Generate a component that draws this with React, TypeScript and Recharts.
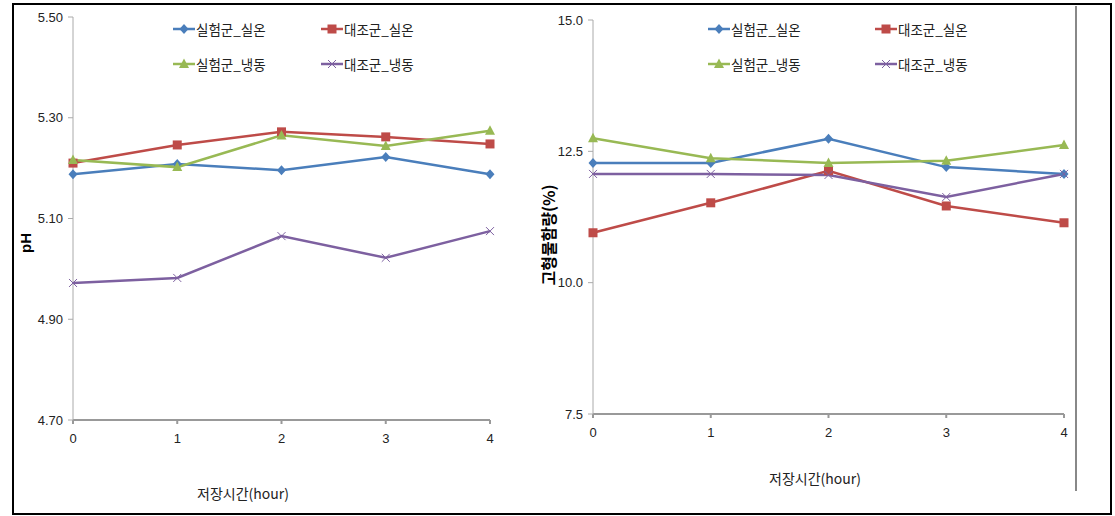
import React from "react";
import { LineChart, Line, XAxis, YAxis } from "recharts";

const hours = [0, 1, 2, 3, 4];
const seriesNames = ["실험군_실온", "대조군_실온", "실험군_냉동", "대조군_냉동"];

// pH
const phExpRoom = [5.188, 5.208, 5.196, 5.222, 5.188];
const phCtrlRoom = [5.21, 5.246, 5.272, 5.262, 5.248];
const phExpFrozen = [5.216, 5.202, 5.265, 5.244, 5.274];
const phCtrlFrozen = [4.972, 4.982, 5.065, 5.022, 5.075];
const phTicks = [4.7, 4.9, 5.1, 5.3, 5.5];

// 고형물 함량 (%)
const solidExpRoom = [12.28, 12.28, 12.74, 12.2, 12.07];
const solidCtrlRoom = [10.95, 11.52, 12.13, 11.46, 11.14];
const solidExpFrozen = [12.75, 12.37, 12.28, 12.32, 12.62];
const solidCtrlFrozen = [12.07, 12.07, 12.05, 11.63, 12.07];
const solidTicks = [7.5, 10, 12.5, 15];

const colors = ["#4a7ebb", "#be4b48", "#98b954", "#7d60a0"];
const keys = ["expRoom", "ctrlRoom", "expFrozen", "ctrlFrozen"];

const KR = "'Noto Sans CJK KR', 'Liberation Sans Narrow', sans-serif";
const NARROW = "'Liberation Sans Narrow', 'Liberation Sans', sans-serif";

const Marker = ({ kind, cx, cy, color }: { kind: number; cx: number; cy: number; color: string }) => {
  if (kind === 0)
    return <polygon points={`${cx},${cy - 5} ${cx + 4.5},${cy} ${cx},${cy + 5} ${cx - 4.5},${cy}`} fill={color} />;
  if (kind === 1) return <rect x={cx - 4.5} y={cy - 4.5} width={9} height={9} fill={color} />;
  if (kind === 2)
    return <polygon points={`${cx},${cy - 5.5} ${cx + 5},${cy + 4} ${cx - 5},${cy + 4}`} fill={color} />;
  return (
    <g stroke={color} strokeWidth={1}>
      <line x1={cx - 4} y1={cy - 4} x2={cx + 4} y2={cy + 4} />
      <line x1={cx - 4} y1={cy + 4} x2={cx + 4} y2={cy - 4} />
    </g>
  );
};

const makeDot = (kind: number) => (p: any) =>
  <Marker key={`d${kind}-${p.index}`} kind={kind} cx={p.cx} cy={p.cy} color={colors[kind]} />;

const LegendBox = ({ left, top, gap }: { left: number; top: number; gap: number }) => (
  <div style={{ position: "absolute", left, top, fontFamily: KR, fontSize: 13.5, color: "#222" }}>
    {seriesNames.map((name, i) => (
      <div
        key={name}
        style={{
          position: "absolute",
          left: (i % 2) * gap,
          top: Math.floor(i / 2) * 35,
          display: "flex",
          alignItems: "center",
          whiteSpace: "nowrap",
        }}
      >
        <svg width={22} height={14}>
          <line x1={0} y1={7} x2={22} y2={7} stroke={colors[i]} strokeWidth={2.5} />
          <Marker kind={i} cx={11} cy={7} color={colors[i]} />
        </svg>
        <span style={{ marginLeft: 1, lineHeight: "14px" }}>{name}</span>
      </div>
    ))}
  </div>
);

const TrendChart = ({
  a, b, c, d, ticks, digits, yWidth, margin,
}: {
  a: number[]; b: number[]; c: number[]; d: number[];
  ticks: number[]; digits: number; yWidth: number;
  margin: { top: number; right: number; bottom: number; left: number };
}) => {
  const data = hours.map((h, i) => ({ hour: h, expRoom: a[i], ctrlRoom: b[i], expFrozen: c[i], ctrlFrozen: d[i] }));
  return (
    <LineChart width={560} height={516} data={data} margin={margin}>
      <XAxis
        dataKey="hour"
        type="number"
        domain={[0, 4]}
        ticks={hours}
        height={30}
        stroke="#999"
        strokeWidth={2}
        tickSize={4}
        tickMargin={10}
        tick={{ fontSize: 13, fill: "#222", fontFamily: NARROW }}
      />
      <YAxis
        domain={[ticks[0], ticks[ticks.length - 1]]}
        ticks={ticks}
        width={yWidth}
        stroke="#aaa"
        tickSize={5}
        tickMargin={5}
        tickFormatter={(v: number) => v.toFixed(digits)}
        tick={{ fontSize: 13, fill: "#222", fontFamily: NARROW }}
      />
      {keys.map((k, i) => (
        <Line
          key={k}
          dataKey={k}
          name={seriesNames[i]}
          stroke={colors[i]}
          strokeWidth={2.5}
          dot={makeDot(i)}
          activeDot={false}
          isAnimationActive={false}
        />
      ))}
    </LineChart>
  );
};

export default function App() {
  return (
    <div style={{ position: "absolute", left: 0, top: 0, width: 1115, height: 516, background: "#fff", overflow: "hidden" }}>
      <div style={{ position: "absolute", left: 12, top: 3, width: 1096, height: 508, border: "2px solid #000" }} />
      <div style={{ position: "absolute", left: 1075, top: 6, width: 2, height: 485, background: "#888" }} />

      <div style={{ position: "absolute", left: 0, top: 0 }}>
        <TrendChart
          a={phExpRoom} b={phCtrlRoom} c={phExpFrozen} d={phCtrlFrozen}
          ticks={phTicks} digits={2} yWidth={60}
          margin={{ top: 17, right: 70, bottom: 66, left: 13 }}
        />
      </div>
      <div style={{ position: "absolute", left: 530, top: 0 }}>
        <TrendChart
          a={solidExpRoom} b={solidCtrlRoom} c={solidExpFrozen} d={solidCtrlFrozen}
          ticks={solidTicks} digits={1} yWidth={50}
          margin={{ top: 20, right: 26, bottom: 72, left: 13 }}
        />
      </div>

      <LegendBox left={173} top={22} gap={148} />
      <LegendBox left={708} top={22} gap={167} />

      <div style={{ position: "absolute", left: 25, top: 243, transform: "translate(-50%, -50%) rotate(-90deg)", fontFamily: "'Liberation Sans', sans-serif", fontWeight: "bold", fontSize: 15 }}>
        pH
      </div>
      <div style={{ position: "absolute", left: 548, top: 235, transform: "translate(-50%, -50%) rotate(-90deg)", fontFamily: KR, fontWeight: "bold", fontSize: 16, whiteSpace: "nowrap" }}>
        고형물함량(%)
      </div>
      <div style={{ position: "absolute", left: 243, top: 493, transform: "translate(-50%, -50%)", fontFamily: KR, fontSize: 14, whiteSpace: "nowrap", color: "#222" }}>
        저장시간(hour)
      </div>
      <div style={{ position: "absolute", left: 815, top: 478, transform: "translate(-50%, -50%)", fontFamily: KR, fontSize: 14, whiteSpace: "nowrap", color: "#222" }}>
        저장시간(hour)
      </div>
    </div>
  );
}
